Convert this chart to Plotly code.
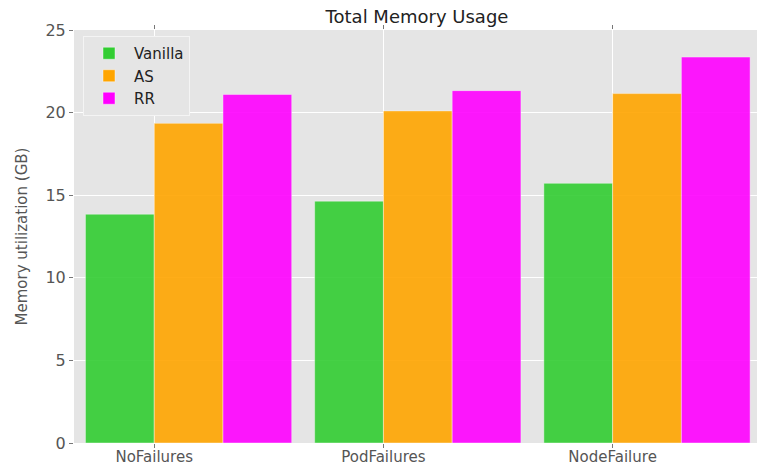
import plotly.graph_objects as go

categories = ["NoFailures", "PodFailures", "NodeFailure"]
series_names = ["Vanilla", "AS", "RR"]
vanilla = [13.85, 14.64, 15.72]
as_vals = [19.35, 20.1, 21.15]
rr_vals = [21.1, 21.33, 23.36]
colors = ["#32CD32", "#FFA500", "#FF00FF"]

bar_w = 0.3
group_pos = list(range(len(categories)))

fig = go.Figure()
for k, (name, vals, col) in enumerate(zip(series_names, [vanilla, as_vals, rr_vals], colors)):
    fig.add_trace(go.Bar(
        x=group_pos, y=vals, name=name,
        width=bar_w, offset=k * bar_w,
        marker=dict(color=col, opacity=0.9, line=dict(color="rgba(255,255,255,0.6)", width=0.7)),
    ))

fig.update_layout(
    width=757, height=467,
    margin=dict(l=74, r=0, t=30, b=24, autoexpand=False),
    barmode="overlay",
    paper_bgcolor="white",
    plot_bgcolor="#E5E5E5",
    font=dict(family="DejaVu Sans", color="#555555"),
    title=dict(text="Total Memory Usage", x=417/757, xanchor="center", y=1-17/467, yanchor="middle",
               font=dict(size=18, color="#222222", family="DejaVu Sans")),
    showlegend=True,
    legend=dict(x=(83-74)/683, y=1-(36-30)/413.5, xanchor="left", yanchor="top",
                bgcolor="#E5E5E5", bordercolor="#F4F4F4", borderwidth=1,
                font=dict(size=15, color="#222222"), itemwidth=40, tracegroupgap=0),
    xaxis=dict(range=[-0.05, 2.93], tickmode="array", automargin=False,
               tickvals=[p + bar_w for p in group_pos], ticktext=categories,
               showgrid=True, gridcolor="white", gridwidth=1,
               ticks="outside", ticklen=4, tickcolor="#777777", mirror="ticks",
               ticklabelstandoff=-4,
               tickfont=dict(size=15, color="#555555"), zeroline=False, showline=False),
    yaxis=dict(range=[0, 25], dtick=5, showgrid=True, gridcolor="white", gridwidth=1,
               automargin=False,
               ticks="outside", ticklen=4, tickcolor="#777777",
               tickfont=dict(size=16, color="#555555"), zeroline=False, showline=False,
               title=dict(text="Memory utilization (GB)", font=dict(size=15, color="#555555"), standoff=14)),
)

fig.write_html("out.html", config={"displayModeBar": False},
               post_script="document.body.style.margin='0';document.body.style.overflow='hidden';")
